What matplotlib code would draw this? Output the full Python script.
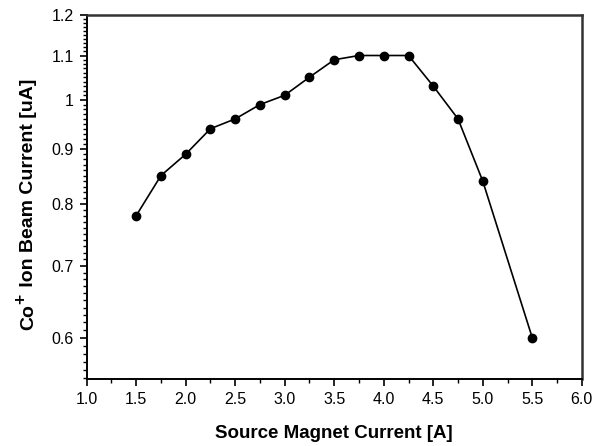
import matplotlib
matplotlib.use("Agg")
import matplotlib.pyplot as plt
from matplotlib.ticker import FixedLocator, FixedFormatter, MultipleLocator, NullFormatter

plt.rcParams['font.family'] = ['Liberation Sans', 'DejaVu Sans']

# Source magnet current [A] and measured Co+ beam current [uA]
magnet_current = [1.5, 1.75, 2.0, 2.25, 2.5, 2.75, 3.0, 3.25, 3.5, 3.75, 4.0, 4.25, 4.5, 4.75, 5.0, 5.5]
beam_current = [0.78, 0.85, 0.89, 0.94, 0.96, 0.99, 1.01, 1.05, 1.09, 1.10, 1.10, 1.10, 1.03, 0.96, 0.84, 0.60]

y_major = [0.6, 0.7, 0.8, 0.9, 1.0, 1.1, 1.2]
y_major_labels = ["0.6", "0.7", "0.8", "0.9", "1", "1.1", "1.2"]
x_major = [1.0, 1.5, 2.0, 2.5, 3.0, 3.5, 4.0, 4.5, 5.0, 5.5, 6.0]
x_major_labels = ["1.0", "1.5", "2.0", "2.5", "3.0", "3.5", "4.0", "4.5", "5.0", "5.5", "6.0"]

W, H = 601, 446
fig = plt.figure(figsize=(W / 100, H / 100), dpi=100)
ax = fig.add_axes([0.1443, 0.150, 0.968 - 0.1443, 0.9664 - 0.150])

ax.plot(magnet_current, beam_current, color='black', lw=1.2,
        marker='o', markersize=6, markerfacecolor='black', markeredgecolor='black')

ax.set_yscale('log')
ax.set_xlim(1.0, 6.0)
ax.set_ylim(0.549, 1.2)

ax.xaxis.set_major_locator(FixedLocator(x_major))
ax.xaxis.set_major_formatter(FixedFormatter(x_major_labels))
ax.xaxis.set_minor_locator(MultipleLocator(0.25))

ax.yaxis.set_major_locator(FixedLocator(y_major))
ax.yaxis.set_major_formatter(FixedFormatter(y_major_labels))
minor_y = [v / 100 for v in range(55, 121) if v % 10 != 0]
ax.yaxis.set_minor_locator(FixedLocator(minor_y))
ax.yaxis.set_minor_formatter(NullFormatter())

ax.tick_params(axis='both', which='major', direction='out', length=5, width=1.2,
               labelsize=11.5, colors='black', pad=4.5)
ax.tick_params(axis='both', which='minor', direction='out', length=3, width=1.0)
ax.tick_params(top=False, right=False, which='both')

for side in ('left', 'bottom'):
    ax.spines[side].set_linewidth(1.4)
    ax.spines[side].set_color('black')
for side in ('top', 'right'):
    ax.spines[side].set_linewidth(1.8)
    ax.spines[side].set_color('#333333')

ax.set_xlabel('Source Magnet Current [A]', fontsize=13.5, fontweight='bold')
ax.xaxis.set_label_coords(0.5, -0.125)

# Vertical axis title built from pieces so the "+" can be drawn full-size and raised
lab_fs = 14
base_x = 33 / W
start_y = (H - 330) / H
common = dict(rotation=90, rotation_mode='anchor', ha='left', va='baseline',
              fontsize=lab_fs, fontweight='bold', color='black')
t_co = fig.text(base_x, start_y, 'Co', **common)
fig.canvas.draw()
renderer = fig.canvas.get_renderer()
bb = t_co.get_window_extent(renderer)
plus_common = dict(common)
plus_common['fontsize'] = 12.5
t_plus = fig.text(base_x - 8 / W, (bb.y1 + 0.5) / H, '+', **plus_common)
fig.canvas.draw()
bb2 = t_plus.get_window_extent(renderer)
fig.text(base_x, (bb2.y1 + 1) / H, ' Ion Beam Current [uA]', **common)

fig.savefig('out.png', dpi=100)
